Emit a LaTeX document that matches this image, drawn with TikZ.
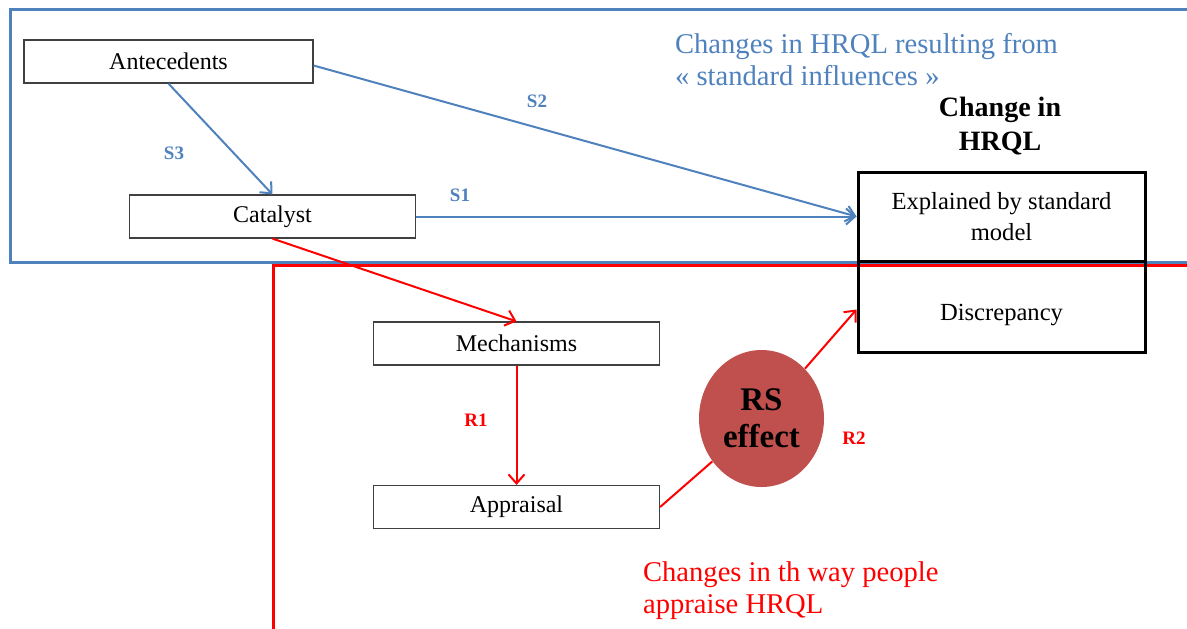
\documentclass[tikz,border=0pt]{standalone}
\usepackage{fontspec}
\setmainfont{Liberation Serif}
\usetikzlibrary{arrows.meta,shapes.geometric}
\definecolor{frameblue}{RGB}{79,129,189}
\definecolor{rsred}{RGB}{192,80,77}

\begin{document}
\begin{tikzpicture}[x=0.5pt,y=-0.5pt,
        box/.style={draw=black!75,line width=0.6pt,minimum width=143pt,minimum height=21.5pt,inner sep=0pt,font=\fontsize{12}{14}\selectfont},
        hbox/.style={draw=black,line width=1.5pt,minimum width=143.5pt,inner sep=0pt,align=center,font=\fontsize{12.3}{15.5}\selectfont},
        bluearrow/.style={draw=frameblue,line width=1pt,-{Straight Barb[length=4.5pt,width=8pt]}},
        redarrow/.style={draw=red,line width=1pt,-{Straight Barb[length=4.5pt,width=8pt]}},
        slabel/.style={text=frameblue,font=\bfseries\fontsize{9.5}{11}\selectfont},
        rlabel/.style={text=red,font=\bfseries\fontsize{9.5}{11}\selectfont}]
        \path[use as bounding box,clip] (0,0) rectangle (1187,628);
        \draw[frameblue,line width=1.5pt] (1200,9)--(10,9)--(10,262)--(1200,262);
        \draw[red,line width=1.5pt] (273,640)--(273,265)--(1200,265);
        \node[box,minimum width=144.5pt](ante) at (168.5,61.5) {Antecedents};
        \node[box](cat) at (272.5,216.5) {Catalyst};
        \node[box](mech) at (516.5,343.5) {Mechanisms};
        \node[box](appr) at (516.5,507) {Appraisal};
        \node[hbox,minimum height=44.5pt](expl) at (1001.5,216.5) {Explained by standard\\model};
        \node[hbox,minimum height=45.5pt,text height=17pt,text depth=3pt](disc) at (1001.5,306.5) {Discrepancy};
        \node[align=center,font=\bfseries\fontsize{14}{17}\selectfont](chg) at (1000,126) {Change in\\HRQL};
        \node[anchor=west,align=left,text=frameblue,font=\fontsize{14.3}{16}\selectfont](std) at (668,60) {Changes in HRQL resulting from\\« standard influences »};
        \node[anchor=west,align=left,text=red,font=\fontsize{14.3}{16}\selectfont](app) at (636,591) {Changes in th way people\\appraise HRQL};
        \node[ellipse,fill=rsred,minimum width=62.5pt,minimum height=68.5pt,inner sep=0pt,align=center,font=\bfseries\fontsize{16.5}{18.5}\selectfont](rs) at (761.5,418.5) {RS\\effect};
        \draw[bluearrow]([yshift=-2pt]ante.east)--(expl.west);
        \draw[bluearrow](ante.south)--(cat.north);
        \draw[bluearrow](cat.east)--(expl.west);
        \draw[redarrow](cat.south)--(mech.north);
        \draw[redarrow](mech.south)--(appr.north);
        \draw[red,line width=1pt](appr.east)--(rs);
        \draw[redarrow](rs)--([yshift=-1.5pt]disc.west);
        \node[slabel](s2) at (537,101) {S2};
        \node[slabel](s3) at (174,153) {S3};
        \node[slabel](s1) at (460,195) {S1};
        \node[rlabel](r1) at (476,420) {R1};
        \node[rlabel](r2) at (854,438) {R2};
\end{tikzpicture}
\end{document}
